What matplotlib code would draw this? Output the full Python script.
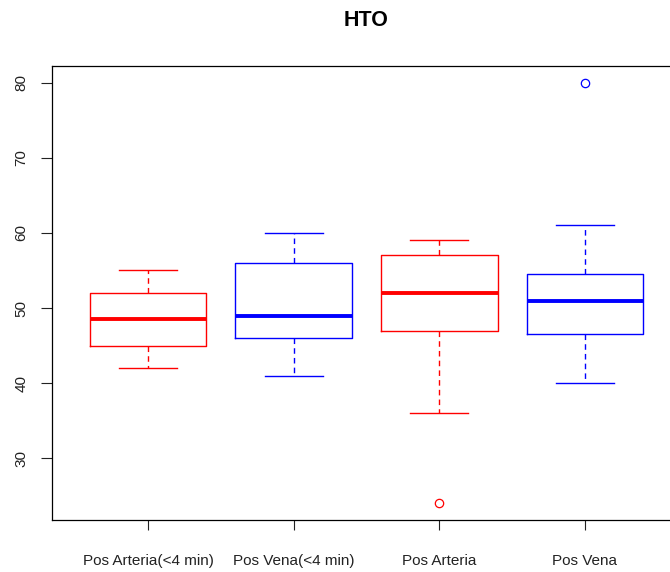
import matplotlib.pyplot as plt

plt.rcParams['font.family'] = ['Liberation Sans', 'DejaVu Sans']

# data
groups = ['Pos Arteria(<4 min)', 'Pos Vena(<4 min)', 'Pos Arteria', 'Pos Vena']
whislo = [42, 41, 36, 40]
q1 = [45, 46, 47, 46.5]
med = [48.5, 49, 52, 51]
q3 = [52, 56, 57, 54.5]
whishi = [55, 60, 59, 61]
fliers = [[], [], [24], [80]]
colors = ['red', 'blue', 'red', 'blue']

stats = []
for i in range(len(groups)):
    stats.append({'whislo': whislo[i], 'q1': q1[i], 'med': med[i], 'q3': q3[i],
                  'whishi': whishi[i], 'fliers': fliers[i], 'label': groups[i]})

fig = plt.figure(figsize=(6.7, 5.72), dpi=100)
ax = fig.add_axes([52 / 670, 1 - 520 / 572, 629 / 670, 454 / 572])

for i, s in enumerate(stats):
    c = colors[i]
    ax.bxp([s], positions=[i + 1], widths=0.8, showfliers=True,
           boxprops=dict(color=c, linewidth=1.0),
           medianprops=dict(color=c, linewidth=2.8, solid_capstyle='butt'),
           whiskerprops=dict(color=c, linewidth=1.0, linestyle=(0, (4, 3))),
           capprops=dict(color=c, linewidth=1.0),
           capwidths=0.4,
           flierprops=dict(marker='o', markerfacecolor='none', markeredgecolor=c,
                           markersize=6, markeredgewidth=0.9))

ax.set_xlim(0.34, 4.66)
ax.set_ylim(21.76, 82.24)
ax.set_yticks([30, 40, 50, 60, 70, 80])
ax.set_xticks([1, 2, 3, 4])
ax.set_xticklabels(groups)
ax.tick_params(axis='x', length=7.5, width=0.8, pad=17, labelsize=11, colors='#222222')
ax.tick_params(axis='y', length=8, width=0.8, pad=9, labelsize=11, colors='#222222')
for lab in ax.get_yticklabels():
    lab.set_rotation(90)
    lab.set_va('center')
for sp in ax.spines.values():
    sp.set_linewidth(0.9)
ax.spines['right'].set_visible(False)

fig.text(366 / 670, 1 - 20.5 / 572, 'HTO', ha='center', va='center',
         fontsize=15.5, fontweight='bold')

fig.savefig('out.png', dpi=100)
